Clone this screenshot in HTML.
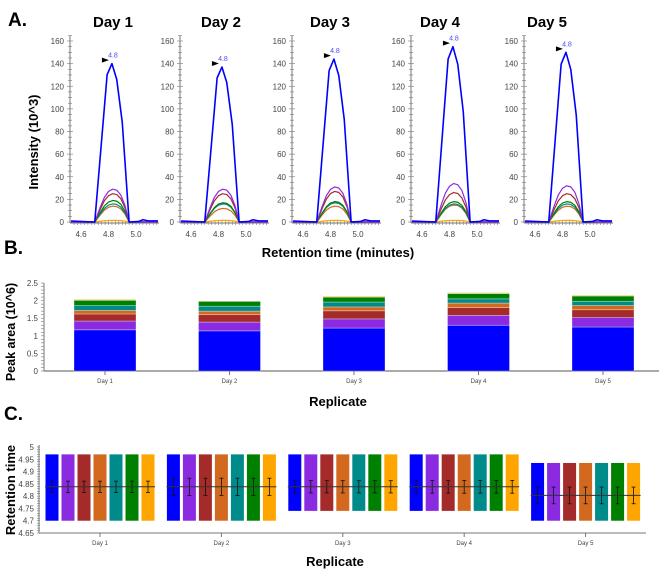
<!DOCTYPE html>
<html><head><meta charset="utf-8"><style>
body{margin:0;background:#fff}
svg{display:block;font-family:"Liberation Sans",sans-serif}
.t{font-size:8px;fill:#444}
.h{font-weight:bold;fill:#000}
</style></head><body>
<svg id="fig" width="659" height="581" viewBox="0 0 659 581">
<text x="8" y="26" class="h" font-size="19">A.</text>
<text x="4" y="254" class="h" font-size="19">B.</text>
<text x="4" y="420" class="h" font-size="19">C.</text>
<text transform="translate(38,142) rotate(-90)" text-anchor="middle" class="h" font-size="13">Intensity (10^3)</text>
<text x="338" y="257" text-anchor="middle" class="h" font-size="13">Retention time (minutes)</text>
<text transform="translate(15,332) rotate(-90)" text-anchor="middle" class="h" font-size="12.5">Peak area (10^6)</text>
<text x="338" y="406" text-anchor="middle" class="h" font-size="13">Replicate</text>
<text transform="translate(15,490) rotate(-90)" text-anchor="middle" class="h" font-size="13">Retention time</text>
<text x="335" y="566" text-anchor="middle" class="h" font-size="13">Replicate</text>
<g id="gA"></g><g id="gB"></g><g id="gC"></g>
</svg>
<script>
// ---- shared data ----
const days = ["Day 1","Day 2","Day 3","Day 4","Day 5"];
const colors = ["#0000ff","#8a2be2","#a52a2a","#d2691e","#008b8b","#008000","#ffa500"];
// Panel A: peak heights (10^3) per series per day
const peakBlue   = [140,137,144,155,150];
const peakPurple = [29,29,31,34,32];
const peakBrown  = [25,25,27,26,25];
const peakGreen  = [19,17,18,18,18];
const peakTeal   = [16,16,17,16,16];
const peakOrange = [14,12,14,15,14];
const peakYellow = [1.5,1.5,1.5,1.5,1.5];
const blueTimes  = [4.70,4.79,4.825,4.86,4.90,4.95];
const profBlue   = [0,0.93,1,0.9,0.63,0];
const smallTimes = [4.70,4.74,4.77,4.80,4.83,4.86,4.89,4.92,4.95];
const profSmall  = [0,0.45,0.75,0.93,1,0.97,0.82,0.5,0];
const aYTicks = [0,20,40,60,80,100,120,140,160];
const aXTicks = [4.6,4.8,5.0];
// Panel B: stacked segment heights (10^6)
const bBlue   = [1.17,1.14,1.22,1.30,1.25];
const bPurple = [0.25,0.25,0.26,0.28,0.27];
const bBrown  = [0.20,0.21,0.23,0.22,0.22];
const bOrange = [0.10,0.10,0.11,0.13,0.12];
const bTeal   = [0.14,0.14,0.14,0.12,0.12];
const bGreen  = [0.15,0.14,0.14,0.15,0.15];
const bYellow = [0.03,0.01,0.03,0.03,0.03];
const bYTicks = [0,0.5,1,1.5,2,2.5];
// Panel C: retention time ranges/means per day
const cMin  = [4.70,4.70,4.74,4.74,4.70];
const cMax  = [4.97,4.97,4.97,4.97,4.935];
const cMean = [4.838,4.838,4.838,4.838,4.803];
const cErr  = [0.023,0.035,0.025,0.026,0.034];
const cYTicks = [4.65,4.7,4.75,4.8,4.85,4.9,4.95,5];

const NS="http://www.w3.org/2000/svg";
function mk(p,tag,at){const e=document.createElementNS(NS,tag);for(const k in at)e.setAttribute(k,at[k]);p.appendChild(e);return e;}

// ---- Panel A ----
const gA=document.getElementById('gA');
const aX0=[70,180,292,411,524];
const aTitleX=[113,221,330,440,547];
const aY=v=>222-v*181/160;
for(let d=0;d<5;d++){
  const x0=aX0[d];
  const ax=t=>x0+11+(t-4.6)*137.5;
  const g=mk(gA,'g',{});
  
  
  const tt=mk(g,'text',{x:aTitleX[d],y:27,'text-anchor':'middle','font-size':15,'font-weight':'bold'});
  tt.textContent=days[d];
  
  
  mk(g,'line',{x1:x0,y1:36,x2:x0,y2:223,stroke:'#777','stroke-width':1});
  mk(g,'line',{x1:x0,y1:223,x2:x0+89,y2:223,stroke:'#777','stroke-width':1});
  for(let v=0;v<=165;v+=5){mk(g,'line',{x1:x0-(v%20==0?3:2),y1:aY(v),x2:x0+(v%20==0?3:2),y2:aY(v),stroke:'#777','stroke-width':0.6});}
  aYTicks.forEach(v=>{const t=mk(g,'text',{x:x0-6,y:aY(v)+3,'text-anchor':'end',class:'t'});t.textContent=v;});
  for(let tm=4.55;tm<5.2;tm+=0.025){const xx=ax(tm);if(xx>x0&&xx<x0+89)mk(g,'line',{x1:xx,y1:221,x2:xx,y2:225,stroke:'#777','stroke-width':0.6});}
  aXTicks.forEach(v=>{const t=mk(g,'text',{x:ax(v),y:237,'text-anchor':'middle',class:'t'});t.textContent=v.toFixed(1);});
  const series=[[peakYellow,6],[peakOrange,3],[peakTeal,4],[peakGreen,5],[peakBrown,2],[peakPurple,1],[peakBlue,0]];
  series.forEach(([arr,ci])=>{
    const times=ci==0?blueTimes:smallTimes, prof=ci==0?profBlue:profSmall;
    let pts=[[x0+1,aY(0)+(ci==0?-1:0)]];
    times.forEach((tm,i)=>pts.push([ax(tm),aY(arr[d]*prof[i])]));
    if(ci==0){pts.push([ax(5.02),aY(0.5)],[ax(5.05),aY(2)],[ax(5.09),aY(1)],[x0+88,aY(1)]);}
    else pts.push([x0+88,aY(0)]);
    const p=mk(g,'polyline',{points:pts.map(q=>q.join(',')).join(' '),fill:'none',stroke:colors[ci],'stroke-width':ci==0?1.6:1.2,'stroke-linejoin':'round'});
    
    
  });
  const px=ax(4.825),py=aY(peakBlue[d]);
  mk(g,'polygon',{points:`${px-10},${py-6} ${px-10},${py-1} ${px-3},${py-3.5}`,fill:'#000'});
  const lb=mk(g,'text',{x:px+1,y:py-6,'text-anchor':'middle','font-size':7,fill:'#4a4aff'});lb.textContent='4.8';
}

// ---- Panel B ----
const gB=document.getElementById('gB');
const bY=v=>371-v*35.2;
const bCx=i=>105+i*124.5;
mk(gB,'line',{x1:44,y1:283,x2:44,y2:371,stroke:'#777'});
mk(gB,'line',{x1:44,y1:371,x2:659,y2:371,stroke:'#777','stroke-width':1.2});
for(let v=0;v<=2.5001;v+=0.1){mk(gB,'line',{x1:41,y1:bY(v),x2:44,y2:bY(v),stroke:'#777','stroke-width':0.6});}
bYTicks.forEach(v=>{const t=mk(gB,'text',{x:38,y:bY(v)+3,'text-anchor':'end',class:'t'});t.textContent=v;});
const bStack=[bBlue,bPurple,bBrown,bOrange,bTeal,bGreen,bYellow];
const bCols=["#0000ff","#8a2be2","#a52a2a","#d2691e","#008b8b","#008000","#f5d060"];
for(let d=0;d<5;d++){
  let acc=0;
  bStack.forEach((arr,s)=>{
    const r=mk(gB,'rect',{x:bCx(d)-31,y:bY(acc+arr[d]),width:62,height:arr[d]*35.2,fill:bCols[s],stroke:'rgba(255,255,255,0.45)','stroke-width':0.7});
    
    
    acc+=arr[d];
  });
  mk(gB,'line',{x1:bCx(d),y1:371,x2:bCx(d),y2:375,stroke:'#777'});
  const t=mk(gB,'text',{x:bCx(d),y:383,'text-anchor':'middle','font-size':6,fill:'#444'});t.textContent=days[d];
}

// ---- Panel C ----
const gC=document.getElementById('gC');
const cY=v=>533-(v-4.65)*245.7;
const cCx=i=>100+i*121.4;
mk(gC,'line',{x1:39,y1:445,x2:39,y2:533,stroke:'#777'});
mk(gC,'line',{x1:39,y1:533,x2:646,y2:533,stroke:'#bbb','stroke-width':2});
for(let v=4.65;v<=5.0001;v+=0.01){mk(gC,'line',{x1:37,y1:cY(v),x2:40,y2:cY(v),stroke:'#777','stroke-width':0.6});}
cYTicks.forEach(v=>{const t=mk(gC,'text',{x:34,y:cY(v)+3,'text-anchor':'end',class:'t'});t.textContent=v;});
for(let d=0;d<5;d++){
  for(let i=0;i<7;i++){
    const cx=cCx(d)+(i-3)*16;
    const r=mk(gC,'rect',{x:cx-6.5,y:cY(cMax[d]),width:13,height:cY(cMin[d])-cY(cMax[d]),fill:colors[i]});
    
    
    mk(gC,'line',{x1:cx,y1:cY(cMean[d]-cErr[d]),x2:cx,y2:cY(cMean[d]+cErr[d]),stroke:'#111','stroke-width':0.8});
    [cMean[d]-cErr[d],cMean[d]+cErr[d]].forEach(v=>mk(gC,'line',{x1:cx-2,y1:cY(v),x2:cx+2,y2:cY(v),stroke:'#111','stroke-width':0.8}));
  }
  mk(gC,'line',{x1:cCx(d)-55,y1:cY(cMean[d]),x2:cCx(d)+55,y2:cY(cMean[d]),stroke:'#333','stroke-width':1});
  mk(gC,'line',{x1:cCx(d),y1:533,x2:cCx(d),y2:537,stroke:'#777'});
  const t=mk(gC,'text',{x:cCx(d),y:545,'text-anchor':'middle','font-size':6,fill:'#444'});t.textContent=days[d];
}
</script>
</body></html>
